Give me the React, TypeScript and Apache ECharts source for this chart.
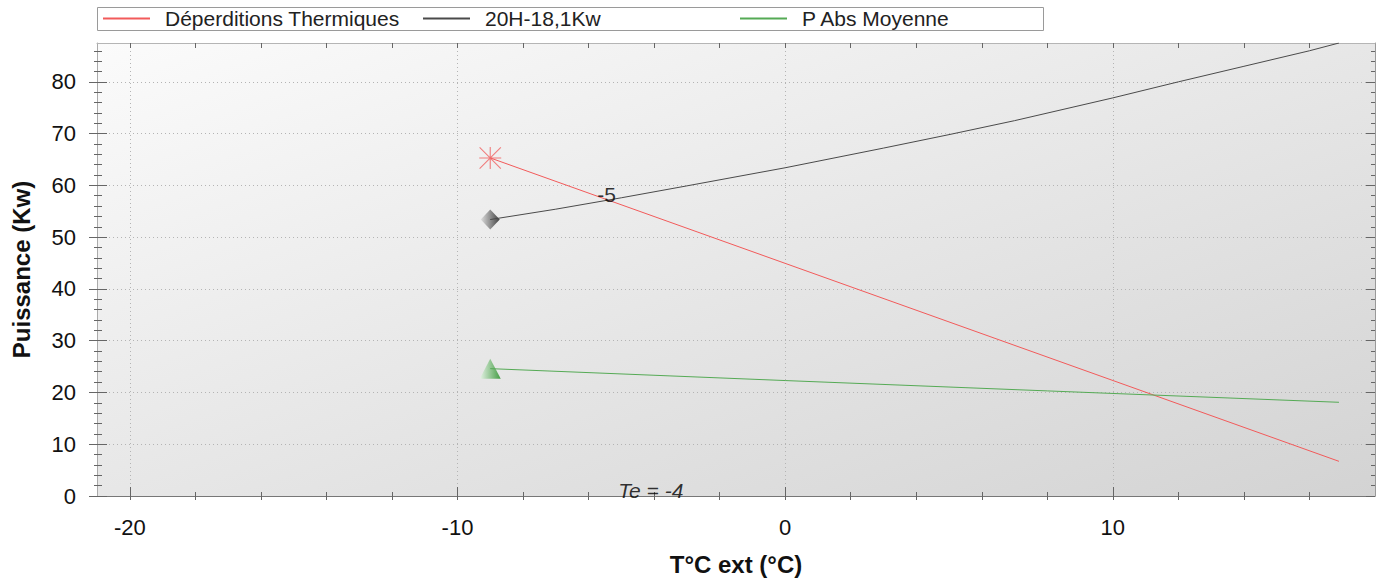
import React, { useEffect, useRef } from "react";
import * as echarts from "echarts";

// ---- axis ranges and ticks ----
const X_MIN = -21;
const X_MAX = 18;
const Y_MIN = 0;
const Y_MAX = 87.5;
const X_MAJOR_TICKS = [-20, -10, 0, 10];
const X_MINOR_TICKS = [-20, -18, -16, -14, -12, -10, -8, -6, -4, -2, 0, 2, 4, 6, 8, 10, 12, 14, 16];
const Y_MAJOR_TICKS = [0, 10, 20, 30, 40, 50, 60, 70, 80];
const Y_MINOR_TICKS = [
  0, 2, 4, 6, 8, 10, 12, 14, 16, 18, 20, 22, 24, 26, 28, 30, 32, 34, 36, 38, 40, 42, 44,
  46, 48, 50, 52, 54, 56, 58, 60, 62, 64, 66, 68, 70, 72, 74, 76, 78, 80, 82, 84, 86,
];

// ---- series ----
const SERIES_NAMES = ["Déperditions Thermiques", "20H-18,1Kw", "P Abs Moyenne"];
const LOSS_T = [-9, 16.9];
const LOSS_KW = [65.3, 6.7];
const PAC_T = [-9, -7, -5, -3, 0, 3, 5, 7, 10, 12, 14, 16, 16.9];
const PAC_KW = [53.4, 55.4, 57.6, 59.9, 63.4, 67.2, 69.8, 72.5, 76.9, 80.0, 83.0, 86.0, 87.5];
const ABS_T = [-9, 0, 8, 16.9];
const ABS_KW = [24.6, 22.3, 20.3, 18.1];

// ---- annotations ----
const BALANCE_POINT = [-5.45, 57.3];
const BALANCE_LABEL = "-5";
const TE_POINT = [-4.1, 1.05];
const TE_LABEL = "Te = -4";

const X_NAME = "T°C ext (°C)";
const Y_NAME = "Puissance (Kw)";

const COLORS = ["#f25a5a", "#4a4a4a", "#55aa55"];
const LEGEND_LEFT = [102, 422, 739];
const FONT = "Arial, 'Liberation Sans', sans-serif";

const pair = (xs: number[], ys: number[]) => xs.map((x, i) => [x, ys[i]]);

const STAR_PATH =
  "path://M0 47.5 H100 V52.5 H0 Z M47.5 0 H52.5 V100 H47.5 Z M3.5 0 L100 96.5 L96.5 100 L0 3.5 Z M96.5 0 L100 3.5 L3.5 100 L0 96.5 Z";

function xAxisDef(extra: any) {
  return {
    type: "value",
    min: X_MIN,
    max: X_MAX,
    axisLine: { show: false, onZero: false },
    axisTick: { show: false },
    axisLabel: { show: false },
    splitLine: { show: false },
    ...extra,
  };
}
function yAxisDef(extra: any) {
  return {
    type: "value",
    min: Y_MIN,
    max: Y_MAX,
    axisLine: { show: false, onZero: false },
    axisTick: { show: false },
    axisLabel: { show: false },
    splitLine: { show: false },
    ...extra,
  };
}
const tick = (values: number[], inside: boolean, length: number) => ({
  show: true,
  inside,
  length,
  customValues: values,
  lineStyle: { color: "#666", width: 1 },
});

export default function App() {
  const ref = useRef<HTMLDivElement>(null);
  useEffect(() => {
    if (!ref.current) return;
    const chart = echarts.init(ref.current, undefined, { renderer: "svg" });
    const option: any = {
      animation: false,
      backgroundColor: "#ffffff",
      textStyle: { fontFamily: FONT },
      grid: {
        left: 97,
        right: 9,
        top: 43,
        bottom: 86,
        show: true,
        borderWidth: 0,
        backgroundColor: new echarts.graphic.LinearGradient(0, 0, 1, 1, [
          { offset: 0, color: "#fbfbfb" },
          { offset: 1, color: "#d3d3d3" },
        ]),
      },
      graphic: [
        {
          type: "rect",
          shape: { x: 97.5, y: 7.5, width: 946, height: 23 },
          style: { fill: "#ffffff", stroke: "#9a9a9a", lineWidth: 1 },
          z: 0,
        },
      ],
      legend: SERIES_NAMES.map((n, i) => ({
        data: [n],
        left: LEGEND_LEFT[i],
        top: 8,
        padding: 0,
        itemWidth: 47,
        itemHeight: 14,
        selectedMode: false,
        itemStyle: { opacity: 0 },
        textStyle: { fontSize: 21, color: "#222", fontFamily: FONT, padding: [0, 0, 0, 10] },
        z: 5,
      })),
      xAxis: [
        xAxisDef({
          position: "bottom",
          axisLine: { show: true, onZero: false, lineStyle: { color: "#777", width: 1 } },
          axisTick: tick(X_MAJOR_TICKS, true, 9),
          axisLabel: {
            show: true,
            customValues: X_MAJOR_TICKS,
            fontSize: 22,
            color: "#111",
            margin: 20,
            fontFamily: FONT,
          },
          splitLine: { show: true, lineStyle: { type: [1, 3], color: "#b4b4b4", width: 1 } },
          name: X_NAME,
          nameLocation: "middle",
          nameGap: 56,
          nameTextStyle: { fontSize: 24, fontWeight: "bold", color: "#111", fontFamily: FONT },
        }),
        xAxisDef({ position: "bottom", axisTick: tick(X_MINOR_TICKS, true, 4) }),
        xAxisDef({ position: "bottom", axisTick: tick(X_MINOR_TICKS, false, 4) }),
        xAxisDef({
          position: "top",
          axisLine: { show: true, onZero: false, lineStyle: { color: "#b5b5b5", width: 1 } },
          axisTick: tick(X_MINOR_TICKS, true, 5),
        }),
      ],
      yAxis: [
        yAxisDef({
          position: "left",
          axisLine: { show: true, onZero: false, lineStyle: { color: "#aaaaaa", width: 1 } },
          axisTick: tick(Y_MAJOR_TICKS, true, 10),
          axisLabel: {
            show: true,
            customValues: Y_MAJOR_TICKS,
            fontSize: 22,
            color: "#111",
            margin: 21,
            fontFamily: FONT,
          },
          splitLine: { show: true, lineStyle: { type: [1, 3], color: "#b4b4b4", width: 1 } },
          name: Y_NAME,
          nameLocation: "middle",
          nameGap: 64,
          nameTextStyle: { fontSize: 24, fontWeight: "bold", color: "#111", fontFamily: FONT },
        }),
        yAxisDef({ position: "left", axisTick: tick(Y_MAJOR_TICKS, false, 8) }),
        yAxisDef({ position: "left", axisTick: tick(Y_MINOR_TICKS, true, 5) }),
        yAxisDef({ position: "left", axisTick: tick(Y_MINOR_TICKS, false, 3) }),
        yAxisDef({
          position: "right",
          axisLine: { show: true, onZero: false, lineStyle: { color: "#999", width: 1 } },
          axisTick: tick(Y_MAJOR_TICKS, true, 9),
        }),
        yAxisDef({ position: "right", axisTick: tick(Y_MINOR_TICKS, true, 4) }),
      ],
      series: [
        // markers (drawn beneath lines)
        {
          type: "scatter",
          silent: true,
          z: 2,
          data: [[LOSS_T[0], LOSS_KW[0]]],
          symbol: STAR_PATH,
          symbolSize: 22,
          itemStyle: { color: "rgba(240,70,70,0.85)" },
        },
        {
          type: "scatter",
          silent: true,
          z: 2,
          data: [[PAC_T[0], PAC_KW[0]]],
          symbol: "diamond",
          symbolSize: [19, 20],
          itemStyle: {
            color: new echarts.graphic.LinearGradient(0, 0, 1, 0, [
              { offset: 0, color: "#d8d8d8" },
              { offset: 1, color: "#1a1a1a" },
            ]),
          },
        },
        {
          type: "scatter",
          silent: true,
          z: 2,
          data: [[ABS_T[0], ABS_KW[0]]],
          symbol: "triangle",
          symbolSize: [21, 20],
          itemStyle: {
            color: new echarts.graphic.LinearGradient(0, 0, 1, 0, [
              { offset: 0, color: "#e6f5e6" },
              { offset: 1, color: "#1b8a1b" },
            ]),
          },
        },
        {
          name: SERIES_NAMES[0],
          type: "line",
          z: 3,
          color: COLORS[0],
          symbol: "none",
          lineStyle: { color: COLORS[0], width: 1 },
          data: pair(LOSS_T, LOSS_KW),
        },
        {
          name: SERIES_NAMES[1],
          type: "line",
          z: 3,
          color: COLORS[1],
          symbol: "none",
          lineStyle: { color: COLORS[1], width: 1 },
          data: pair(PAC_T, PAC_KW),
        },
        {
          name: SERIES_NAMES[2],
          type: "line",
          z: 3,
          color: COLORS[2],
          symbol: "none",
          lineStyle: { color: COLORS[2], width: 1 },
          data: pair(ABS_T, ABS_KW),
        },
        {
          type: "scatter",
          silent: true,
          z: 4,
          data: [BALANCE_POINT],
          symbolSize: 1,
          itemStyle: { color: "transparent" },
          label: {
            show: true,
            position: "inside",
            formatter: BALANCE_LABEL,
            fontSize: 21,
            color: "#000",
            fontFamily: FONT,
            offset: [0, -5],
          },
        },
        {
          type: "scatter",
          silent: true,
          z: 4,
          data: [TE_POINT],
          symbolSize: 1,
          itemStyle: { color: "transparent" },
          label: {
            show: true,
            position: "inside",
            formatter: TE_LABEL,
            fontSize: 21,
            fontStyle: "italic",
            color: "#000",
            fontFamily: FONT,
          },
        },
      ],
    };
    chart.setOption(option);
    return () => chart.dispose();
  }, []);
  return (
    <div
      ref={ref}
      style={{ position: "fixed", left: 0, top: 0, width: 1384, height: 582 }}
    />
  );
}
